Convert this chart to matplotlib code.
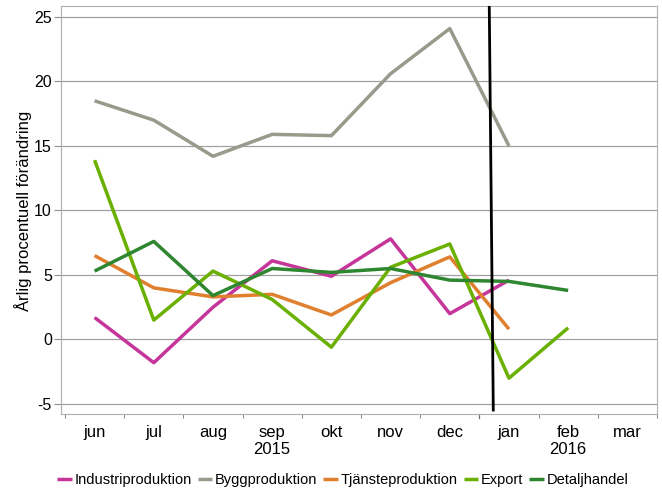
import numpy as np
import matplotlib.pyplot as plt

plt.rcParams['font.family'] = ['Liberation Sans', 'DejaVu Sans']

months = ['jun', 'jul', 'aug', 'sep', 'okt', 'nov', 'dec', 'jan', 'feb', 'mar']
industri = [1.7, -1.8, 2.5, 6.1, 4.9, 7.8, 2.0, 4.6]
bygg = [18.5, 17.0, 14.2, 15.9, 15.8, 20.6, 24.1, 15.0]
tjanste = [6.5, 4.0, 3.3, 3.5, 1.9, 4.4, 6.4, 0.8]
export = [13.9, 1.5, 5.3, 3.1, -0.6, 5.6, 7.4, -3.0, 0.9]
detalj = [5.3, 7.6, 3.4, 5.5, 5.2, 5.5, 4.6, 4.5, 3.8]

series = [
    ('Industriproduktion', industri, '#C6359A'),
    ('Byggproduktion', bygg, '#9A9A8C'),
    ('Tjänsteproduktion', tjanste, '#E07F2E'),
    ('Export', export, '#6AB000'),
    ('Detaljhandel', detalj, '#2F8630'),
]

fig = plt.figure(figsize=(6.62, 4.92), dpi=100)
ax = fig.add_axes([0.0921, 0.1585, 0.9003, 0.8293])

for name, vals, col in series:
    ax.plot(range(len(vals)), vals, color=col, lw=2.5, label=name,
            solid_capstyle='butt', zorder=3)

ymin, ymax = -5.78, 25.85

# vertical marker line
ax.plot([6.667, 6.735], [ymax, -5.47], color='black', lw=2, zorder=4)

ax.set_xlim(-0.568, 9.5)
ax.set_ylim(ymin, ymax)
ax.set_yticks(np.arange(-5, 26, 5))
ax.set_yticklabels([str(v) for v in range(-5, 26, 5)])
ax.grid(axis='y', color='#a0a0a0', lw=0.9, zorder=0)
ax.set_xticks(range(len(months)))
ax.set_xticklabels(months)
ax.set_xticks(np.arange(-0.5, 9.6, 1), minor=True)
ax.tick_params(axis='x', which='major', length=0, pad=8, labelsize=12)
ax.tick_params(axis='x', which='minor', length=3, color='#707070')
ax.tick_params(axis='y', length=5, color='#909090', labelsize=11.5, pad=1.5)
ax.plot([6.5, 6.5], [ymin, ymin - 0.3], color='#707070', lw=0.9, clip_on=False)

for s in ax.spines.values():
    s.set_color('#b0b0b0')

ax.text(3, -7.95, '2015', ha='center', va='top', fontsize=12)
ax.text(8, -7.95, '2016', ha='center', va='top', fontsize=12)

fig.text(23 / 662, 1 - 211 / 492, 'Årlig procentuell förändring', rotation=90,
         ha='center', va='center', fontsize=12)

fig.legend(loc='center', bbox_to_anchor=(0.518, 0.024), ncol=5,
           frameon=False, fontsize=10.5, handlelength=1.0, handletextpad=0.2,
           columnspacing=0.4)

fig.savefig('out.png', dpi=100)
